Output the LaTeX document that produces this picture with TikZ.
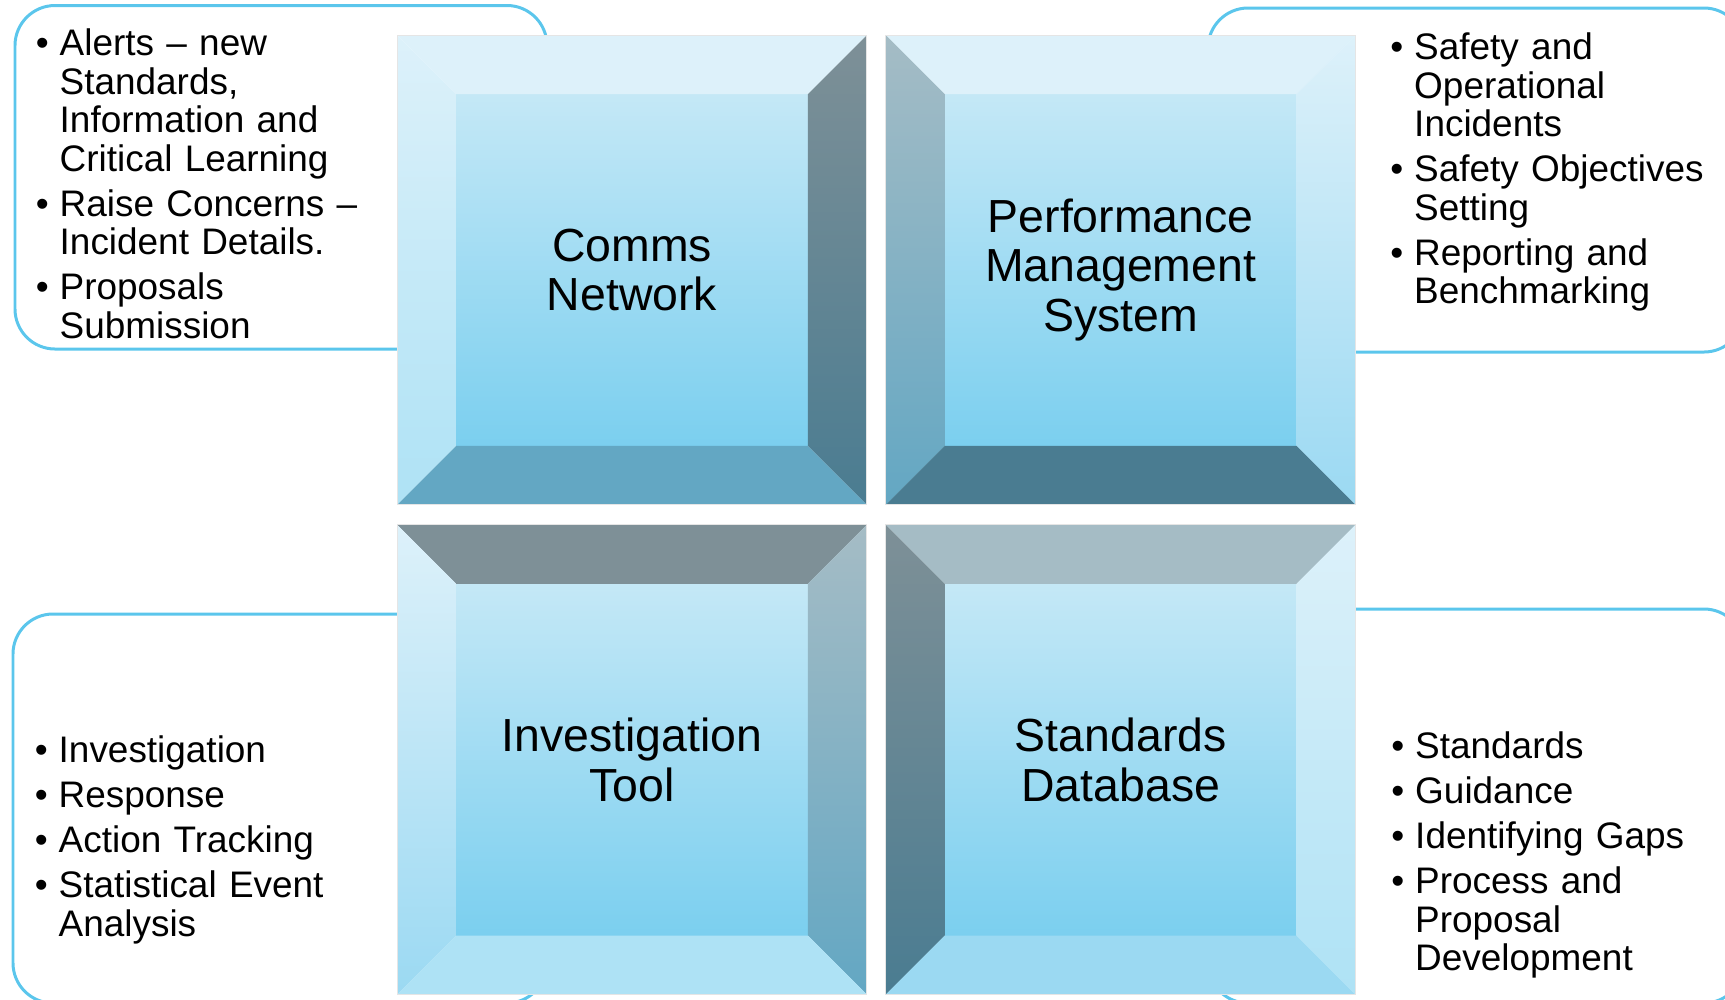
\documentclass[tikz,border=0pt]{standalone}
\usepackage{fontspec}
\setmainfont{Liberation Sans}
\usetikzlibrary{calc}
\usetikzlibrary{positioning}
\usetikzlibrary{backgrounds}

\definecolor{frameblue}{HTML}{5BC6EC}
\definecolor{facetop}{HTML}{C4E8F6}
\definecolor{facebottom}{HTML}{7BCFEF}
\definecolor{pale}{HTML}{DDF1FA}
\definecolor{light}{HTML}{AEE2F5}
\definecolor{sky}{HTML}{9BD9F2}
\definecolor{mid}{HTML}{63A7C3}
\definecolor{deep}{HTML}{4A7C91}
\definecolor{slate}{HTML}{7E9097}
\definecolor{mist}{HTML}{A5BCC5}

\newcommand{\bevw}{0.59cm}
% #1 node, #2 top, #3/#4 left (top/bottom), #5/#6 right (top/bottom), #7 bottom
\newcommand{\bevelsq}[7]{%
  \shade[top color=facetop, bottom color=facebottom]
    ($(#1.north west)+(\bevw,-\bevw)$) rectangle ($(#1.south east)+(-\bevw,\bevw)$);
  \fill[#2] (#1.north west) -- (#1.north east) -- ($(#1.north east)+(-\bevw,-\bevw)$)
    -- ($(#1.north west)+(\bevw,-\bevw)$) -- cycle;
  \shade[top color=#3, bottom color=#4] (#1.north west) -- ($(#1.north west)+(\bevw,-\bevw)$)
    -- ($(#1.south west)+(\bevw,\bevw)$) -- (#1.south west) -- cycle;
  \shade[top color=#5, bottom color=#6] (#1.north east) -- (#1.south east)
    -- ($(#1.south east)+(-\bevw,\bevw)$) -- ($(#1.north east)+(-\bevw,-\bevw)$) -- cycle;
  \fill[#7] (#1.south west) -- (#1.south east) -- ($(#1.south east)+(-\bevw,\bevw)$)
    -- ($(#1.south west)+(\bevw,\bevw)$) -- cycle;
  \draw[black!10, line width=0.3pt] (#1.north west) rectangle (#1.south east);
}

\newenvironment{bulletlist}{\begin{list}{\textbullet}{%
  \setlength{\leftmargin}{0.24cm}\setlength{\labelsep}{0.11cm}%
  \setlength{\labelwidth}{0.13cm}\setlength{\itemsep}{0.065cm}%
  \setlength{\parsep}{0pt}\setlength{\topsep}{0pt}\setlength{\partopsep}{0pt}}}%
  {\end{list}}

\begin{document}
\begin{tikzpicture}[x=0.01cm, y=-0.01cm,
    title_style/.style={rectangle, minimum width=4.68cm, minimum height=4.68cm,
      inner sep=0pt, align=center, font={\fontsize{13.2}{14.1}\selectfont}},
    list_style/.style={anchor=base west, inner sep=0pt, align=left,
      font={\fontsize{10.5}{10.95}\selectfont}},
    frame_style/.style={draw=frameblue, line width=0.85pt, rounded corners=0.4cm},
    node distance=0.19cm]

  \useasboundingbox (0,0) rectangle (1725,999);

  \node[title_style] (comms) at (632,270) {Comms\\Network};
  \node[title_style, right=of comms] (perf) {Performance\\Management\\System};
  \node[title_style, below=0.2cm of comms] (invest) {Investigation\\Tool};
  \node[title_style, below=0.2cm of perf] (stds) {Standards\\Database};

  \node[list_style, text width=4.2cm] (comms_list) at (35,17) {\begin{bulletlist}
      \item Alerts -- new\newline Standards,\newline Information and\newline Critical Learning
      \item Raise Concerns --\newline Incident Details.
      \item Proposals\newline Submission
    \end{bulletlist}};
  \node[list_style, text width=3.3cm] (perf_list) at (1389.5,21) {\begin{bulletlist}
      \item Safety and\newline Operational\newline Incidents
      \item Safety Objectives\newline Setting
      \item Reporting and\newline Benchmarking
    \end{bulletlist}};
  \node[list_style, text width=3.8cm] (invest_list) at (34,724) {\begin{bulletlist}
      \item Investigation
      \item Response
      \item Action Tracking
      \item Statistical Event\newline Analysis
    \end{bulletlist}};
  \node[list_style, text width=3.3cm] (stds_list) at (1390.5,720) {\begin{bulletlist}
      \item Standards
      \item Guidance
      \item Identifying Gaps
      \item Process and\newline Proposal\newline Development
    \end{bulletlist}};

  \begin{scope}[on background layer]
    \draw[frame_style] (15,5.5) rectangle (547,349);
    \draw[frame_style] (1208,8) rectangle (1744,352);
    \draw[frame_style] (13,614) rectangle (547,1003);
    \draw[frame_style] (1208,609) rectangle (1744,1003);

    \bevelsq{comms}{pale}{pale}{light}{slate}{deep}{mid}
    \bevelsq{perf}{pale}{mist}{mid}{pale}{sky}{deep}
    \bevelsq{invest}{slate}{pale}{sky}{mist}{mid}{light}
    \bevelsq{stds}{mist}{slate}{deep}{pale}{light}{sky}
  \end{scope}
\end{tikzpicture}
\end{document}
